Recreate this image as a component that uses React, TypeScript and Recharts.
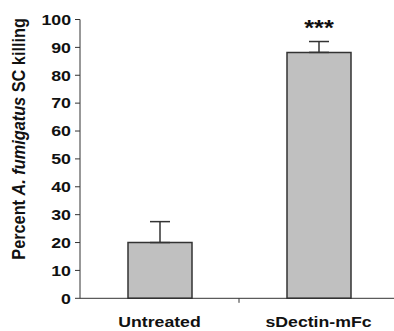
import React from "react";
import { BarChart, Bar, XAxis, YAxis, ErrorBar, LabelList } from "recharts";

const categories = ["Untreated", "sDectin-mFc"];
const killing = [20.0, 88.2];
const errUp = [7.5, 3.9];
const stars = ["", "***"];
const yTicks = [0, 10, 20, 30, 40, 50, 60, 70, 80, 90, 100];

const data = categories.map((c, i) => ({
  name: c,
  value: killing[i],
  err: [0, errUp[i]],
  stars: stars[i],
}));

const FONT = "'Liberation Sans', Arial, Helvetica, sans-serif";
const AX = "#333";
const TXT = "#111";
const X_TICK_SIZE = 0;
const X_TICK_MARGIN = 0;

const YLabel = (props: any) => {
  const vb = props.viewBox || {};
  const cx = 25;
  const cy = (vb.y ?? 19.5) + (vb.height ?? 279) / 2 - 20;
  return (
    <text
      transform={`translate(${cx}, ${cy}) scale(1.15, 1) rotate(-90)`}
      x={0}
      y={0}
      textAnchor="middle"
      fontFamily={FONT}
      fontWeight="bold"
      fontSize={16.3}
      fill={TXT}
    >
      <tspan>Percent </tspan>
      <tspan fontStyle="italic">A. fumigatus</tspan>
      <tspan> SC killing</tspan>
    </text>
  );
};

const YTick = (props: any) => {
  const { x, y, payload } = props;
  return (
    <text
      transform={`translate(${x}, ${y}) scale(1.2, 1)`}
      x={0}
      y={0}
      dy={5.3}
      textAnchor="end"
      fontFamily={FONT}
      fontWeight="bold"
      fontSize={14.8}
      fill={TXT}
    >
      {payload.value}
    </text>
  );
};

const XTick = (props: any) => {
  const { x, y, payload, width, visibleTicksCount, index } = props;
  const axisY = y - X_TICK_SIZE - X_TICK_MARGIN;
  const band = width / visibleTicksCount;
  const boundary = payload.coordinate + band / 2;
  return (
    <g>
      {index < visibleTicksCount - 1 && (
        <line x1={boundary} x2={boundary} y1={axisY} y2={axisY + 4.5} stroke={AX} strokeWidth={1} />
      )}
      <text
        transform={`translate(${x}, ${axisY + 29}) scale(1.14, 1)`}
        x={0}
        y={0}
        textAnchor="middle"
        fontFamily={FONT}
        fontWeight="bold"
        fontSize={15.5}
        fill={TXT}
      >
        {payload.value}
      </text>
    </g>
  );
};

const StarLabel = (props: any) => {
  const { x, y, width, value } = props;
  if (!value) return null;
  const cx = x + width / 2;
  return (
    <text
      transform={`translate(${cx}, ${y - 17.5}) scale(1.15, 1)`}
      x={0}
      y={0}
      textAnchor="middle"
      fontFamily={FONT}
      fontWeight="bold"
      fontSize={22}
      fill={TXT}
    >
      {value}
    </text>
  );
};

export default function App() {
  return (
    <div style={{ position: "absolute", left: 0, top: 0, width: 394, height: 331, overflow: "hidden", background: "#fff" }}>
      <BarChart
        width={398}
        height={331}
        data={data}
        margin={{ top: 19.5, right: 0, bottom: 0, left: 0 }}
      >
        <XAxis
          dataKey="name"
          height={32.7}
          axisLine={{ stroke: AX, strokeWidth: 1 }}
          tickLine={false}
          tickSize={X_TICK_SIZE}
          tickMargin={X_TICK_MARGIN}
          interval={0}
          tick={<XTick />}
        />
        <YAxis
          width={80}
          domain={[0, 100]}
          ticks={yTicks}
          interval={0}
          axisLine={{ stroke: AX, strokeWidth: 1 }}
          tickLine={{ stroke: AX, strokeWidth: 1 }}
          tickSize={5}
          tickMargin={4}
          tick={<YTick />}
          label={<YLabel />}
        />
        <Bar
          dataKey="value"
          barSize={64}
          fill="#c0c0c0"
          stroke="#333"
          strokeWidth={1.5}
          isAnimationActive={false}
        >
          <ErrorBar dataKey="err" width={10} stroke="#333" strokeWidth={1.5} direction="y" />
          <LabelList dataKey="stars" content={<StarLabel />} />
        </Bar>
      </BarChart>
    </div>
  );
}
